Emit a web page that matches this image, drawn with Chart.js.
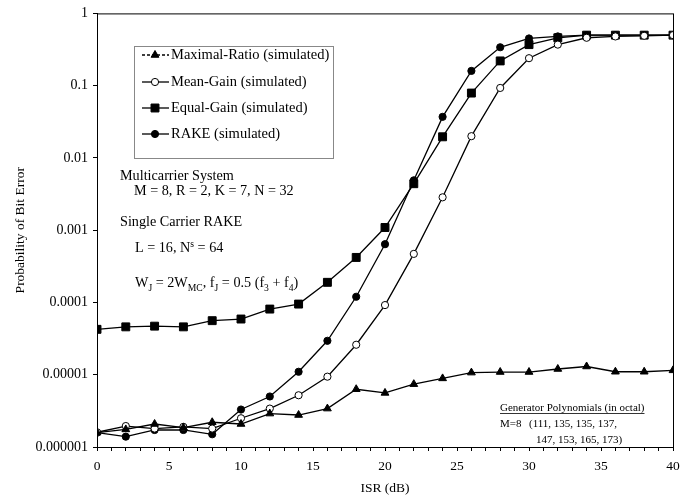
<!DOCTYPE html>
<html lang="en">
<head>
  <meta charset="UTF-8" />
  <title>Probability of Bit Error vs ISR</title>
  <script src="https://cdn.jsdelivr.net/npm/chart.js"></script>
  <style>
    * { box-sizing: border-box; margin: 0; padding: 0; }
    body { background: #fff; width: 690px; height: 499px; overflow: hidden; }
    #wrap { position: relative; width: 690px; height: 499px; }
  </style>
</head>
<body>
  <div id="wrap"><canvas id="berChart" width="690" height="499"></canvas></div>

  <script>
    // ISR values in dB
    const isr = [0, 2, 4, 6, 8, 10, 12, 14, 16, 18, 20, 22, 24, 26, 28, 30, 32, 34, 36, 38, 40];

    const maximalRatio = [1.58e-6, 1.75e-6, 2.08e-6, 1.85e-6, 2.2e-6, 2.08e-6, 2.9e-6, 2.77e-6, 3.4e-6, 6.3e-6,
      5.6e-6, 7.4e-6, 8.9e-6, 1.07e-5, 1.09e-5, 1.09e-5, 1.2e-5, 1.3e-5, 1.1e-5, 1.1e-5, 1.15e-5];
    const meanGain = [1.6e-6, 1.95e-6, 1.8e-6, 1.9e-6, 1.8e-6, 2.5e-6, 3.4e-6, 5.2e-6, 9.4e-6, 2.6e-5,
      9.2e-5, 4.7e-4, 2.85e-3, 0.02, 0.093, 0.24, 0.37, 0.46, 0.48, 0.49, 0.5];
    const equalGain = [4.25e-5, 4.6e-5, 4.7e-5, 4.6e-5, 5.6e-5, 5.9e-5, 8.1e-5, 9.5e-5, 1.9e-4, 4.2e-4,
      1.09e-3, 4.4e-3, 0.0196, 0.079, 0.22, 0.37, 0.46, 0.5, 0.5, 0.5, 0.5];
    const rake = [1.58e-6, 1.39e-6, 1.72e-6, 1.72e-6, 1.5e-6, 3.3e-6, 5e-6, 1.1e-5, 2.95e-5, 1.2e-4,
      6.4e-4, 4.9e-3, 0.037, 0.16, 0.34, 0.45, 0.48, 0.5, 0.5, 0.5, 0.5];

    const seriesNames = ['Maximal-Ratio (simulated)', 'Mean-Gain (simulated)', 'Equal-Gain (simulated)', 'RAKE (simulated)'];

    const yTickValues = [1, 0.1, 0.01, 0.001, 0.0001, 0.00001, 0.000001];
    const yTickLabels = ['1', '0.1', '0.01', '0.001', '0.0001', '0.00001', '0.000001'];
    const xTickStep = 5;

    const SERIF = '"Liberation Serif", "Times New Roman", serif';

    function toPoints(values) {
      return values.map((v, i) => ({ x: isr[i], y: v }));
    }

    const baseLine = { borderColor: '#000', borderWidth: 1.3, pointBorderColor: '#000', pointBorderWidth: 1, tension: 0 };

    const datasets = [
      Object.assign({}, baseLine, { label: seriesNames[0], data: toPoints(maximalRatio),
        pointStyle: 'triangle', pointRadius: 4.5, pointBackgroundColor: '#000' }),
      Object.assign({}, baseLine, { label: seriesNames[1], data: toPoints(meanGain),
        pointStyle: 'circle', pointRadius: 3.6, pointBackgroundColor: '#fff' }),
      Object.assign({}, baseLine, { label: seriesNames[2], data: toPoints(equalGain),
        pointStyle: 'rect', pointRadius: 5.6, pointBackgroundColor: '#000' }),
      Object.assign({}, baseLine, { label: seriesNames[3], data: toPoints(rake),
        pointStyle: 'circle', pointRadius: 3.6, pointBackgroundColor: '#000' })
    ];

    // draws a run of text pieces, some of them sub- or superscript
    function drawRich(ctx, x, y, pieces, size) {
      let cx = x;
      pieces.forEach(([txt, mode]) => {
        const s = mode ? size * 0.68 : size;
        const dy = mode === 'sub' ? size * 0.28 : mode === 'sup' ? -size * 0.38 : 0;
        ctx.font = `${s}px ${SERIF}`;
        ctx.fillText(txt, cx, y + dy);
        cx += ctx.measureText(txt).width;
      });
    }

    const framePlugin = {
      id: 'frameAndNotes',
      afterDraw(chart) {
        const ctx = chart.ctx;
        const a = chart.chartArea;
        ctx.save();
        ctx.strokeStyle = '#000';
        ctx.lineWidth = 1;
        ctx.strokeRect(a.left + 0.5, a.top + 0.5, a.right - a.left, a.bottom - a.top);

        // legend box
        const lx = 134, ly = 46, lw = 199, lh = 112;
        ctx.fillStyle = '#fff';
        ctx.fillRect(lx, ly, lw, lh);
        ctx.strokeStyle = '#888';
        ctx.strokeRect(lx + 0.5, ly + 0.5, lw, lh);
        const rows = [55, 82, 108, 134];
        chart.data.datasets.forEach((ds, i) => {
          const ry = rows[i];
          ctx.strokeStyle = '#000';
          ctx.lineWidth = 1.3;
          ctx.setLineDash(i === 0 ? [3, 2] : []);
          ctx.beginPath();
          ctx.moveTo(142, ry);
          ctx.lineTo(169, ry);
          ctx.stroke();
          ctx.setLineDash([]);
          ctx.fillStyle = ds.pointBackgroundColor;
          ctx.lineWidth = 1;
          Chart.helpers.drawPoint(ctx, { pointStyle: ds.pointStyle, radius: ds.pointRadius, rotation: 0, borderWidth: 1 }, 155, ry);
          ctx.fillStyle = '#000';
          ctx.font = `14.5px ${SERIF}`;
          ctx.textBaseline = 'middle';
          ctx.textAlign = 'left';
          ctx.fillText(ds.label, 171, ry);
        });

        // system parameters
        ctx.fillStyle = '#000';
        ctx.textBaseline = 'alphabetic';
        ctx.textAlign = 'left';
        const fs = 14.2;
        drawRich(ctx, 120, 180, [['Multicarrier System']], fs);
        drawRich(ctx, 134, 195, [['M = 8, R = 2, K = 7, N = 32']], fs);
        drawRich(ctx, 120, 226, [['Single Carrier RAKE']], fs);
        drawRich(ctx, 135, 252, [['L = 16, N'], ['s', 'sup'], [' = 64']], fs);
        drawRich(ctx, 135, 287, [['W'], ['J', 'sub'], [' = 2W'], ['MC', 'sub'], [', f'], ['J', 'sub'],
          [' = 0.5 (f'], ['3', 'sub'], [' + f'], ['4', 'sub'], [')']], fs);

        // generator polynomials note
        const gs = 11;
        ctx.font = `${gs}px ${SERIF}`;
        const head = 'Generator Polynomials (in octal)';
        ctx.fillText(head, 500, 411);
        const hw = ctx.measureText(head).width;
        ctx.lineWidth = 0.8;
        ctx.beginPath();
        ctx.moveTo(500, 413.5);
        ctx.lineTo(500 + hw, 413.5);
        ctx.stroke();
        ctx.fillText('M=8', 500, 427);
        ctx.fillText('(111, 135, 135, 137,', 529, 427);
        ctx.fillText('147, 153, 165, 173)', 536, 443);
        ctx.restore();
      }
    };

    new Chart(document.getElementById('berChart').getContext('2d'), {
      type: 'line',
      data: { datasets: datasets },
      plugins: [framePlugin],
      options: {
        responsive: false,
        animation: false,
        layout: { padding: { top: 13, right: 17, left: 0, bottom: 0 } },
        plugins: {
          legend: { display: false },
          tooltip: { enabled: false }
        },
        scales: {
          x: {
            type: 'linear',
            min: 0,
            max: 40,
            afterFit(scale) { scale.height = 52; },
            grid: { drawOnChartArea: false, tickLength: 4, color: '#000' },
            border: { color: '#000' },
            ticks: {
              stepSize: 1,
              autoSkip: false,
              maxRotation: 0,
              padding: 7,
              color: '#000',
              font: { family: SERIF, size: 13.5 },
              callback: (v) => (v % xTickStep === 0 ? String(v) : '')
            },
            title: {
              display: true,
              text: 'ISR (dB)',
              color: '#000',
              font: { family: SERIF, size: 13.5 },
              padding: { top: 0, bottom: 2 }
            }
          },
          y: {
            type: 'logarithmic',
            min: 0.000001,
            max: 1,
            afterFit(scale) { scale.width = 97; },
            afterBuildTicks(scale) { scale.ticks = yTickValues.map(v => ({ value: v })); },
            grid: { drawOnChartArea: false, tickLength: 4, color: '#000' },
            border: { color: '#000' },
            ticks: {
              padding: 5,
              color: '#000',
              font: { family: SERIF, size: 14 },
              callback: (v) => {
                const i = yTickValues.findIndex(t => Math.abs(Math.log10(t) - Math.log10(v)) < 1e-6);
                return i >= 0 ? yTickLabels[i] : '';
              }
            },
            title: {
              display: true,
              text: 'Probability of Bit Error',
              color: '#000',
              font: { family: SERIF, size: 13.5 },
              padding: { top: 12, bottom: 0 }
            }
          }
        }
      }
    });
  </script>
</body>
</html>
